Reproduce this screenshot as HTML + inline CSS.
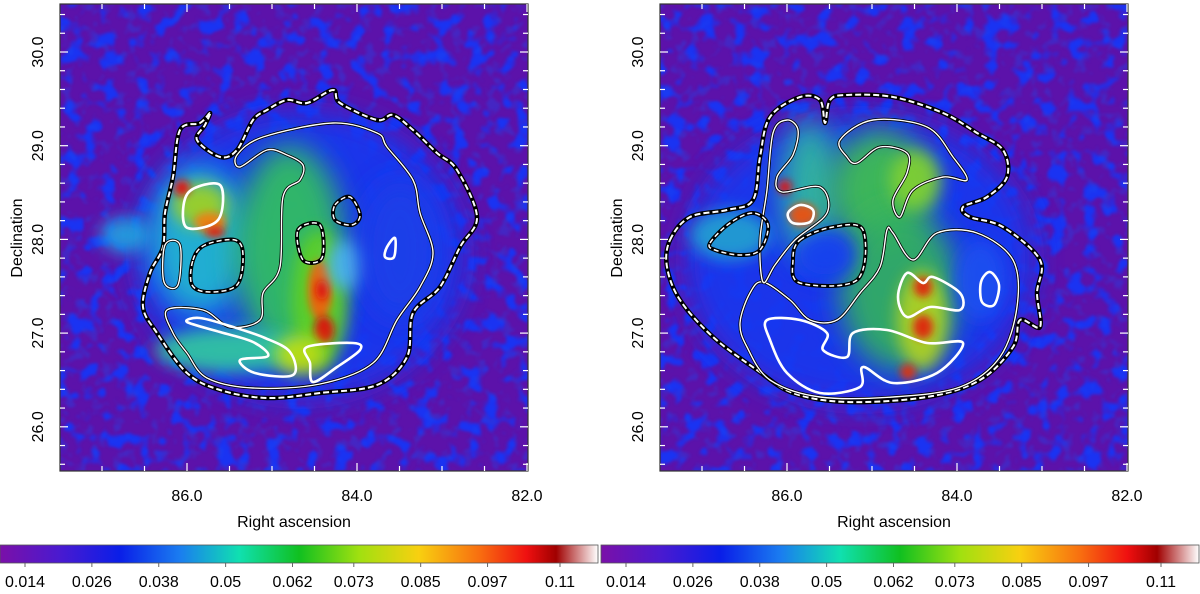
<!DOCTYPE html>
<html><head><meta charset="utf-8">
<style>
html,body{margin:0;padding:0;background:#fff;}
body{width:1200px;height:589px;overflow:hidden;font-family:"Liberation Sans",sans-serif;}
svg text{font-family:"Liberation Sans",sans-serif;fill:#000;}
</style></head>
<body>
<svg id="fig" width="1200" height="589" viewBox="0 0 1200 589" xmlns="http://www.w3.org/2000/svg">
<defs>
  <clipPath id="clipL"><rect x="60" y="4" width="468" height="467"/></clipPath>
  <clipPath id="clipR"><rect x="660" y="4" width="468" height="467"/></clipPath>
  <filter id="noise1" x="0" y="0" width="100%" height="100%" color-interpolation-filters="sRGB">
    <feTurbulence type="fractalNoise" baseFrequency="0.06" numOctaves="2" seed="3" result="t"/>
    <feColorMatrix in="t" type="matrix" values="0 0 0 0 0.1  0 0 0 0 0.2  0 0 0 0 0.95  6 0 0 0 -3.1" />
    <feGaussianBlur stdDeviation="1.2"/>
  </filter>
  <filter id="noise2" x="0" y="0" width="100%" height="100%" color-interpolation-filters="sRGB">
    <feTurbulence type="fractalNoise" baseFrequency="0.06" numOctaves="2" seed="11" result="t"/>
    <feColorMatrix in="t" type="matrix" values="0 0 0 0 0.1  0 0 0 0 0.2  0 0 0 0 0.95  6 0 0 0 -3.1" />
    <feGaussianBlur stdDeviation="1.2"/>
  </filter>
  <filter id="mottle" x="0" y="0" width="100%" height="100%" color-interpolation-filters="sRGB">
    <feTurbulence type="fractalNoise" baseFrequency="0.08" numOctaves="2" seed="7" result="t"/>
    <feColorMatrix in="t" type="matrix" values="0 0 0 0 0.1  0 0 0 0 0.3  0 0 0 0 0.95  5 0 0 0 -2.7" />
    <feGaussianBlur stdDeviation="1"/>
  </filter>
  <filter id="blurBig" x="-50%" y="-50%" width="200%" height="200%"><feGaussianBlur stdDeviation="14"/></filter>
  <filter id="blurMid" x="-50%" y="-50%" width="200%" height="200%"><feGaussianBlur stdDeviation="8"/></filter>
  <filter id="blurSm" x="-50%" y="-50%" width="200%" height="200%"><feGaussianBlur stdDeviation="4"/></filter>
  <linearGradient id="cmap" x1="0" x2="1" y1="0" y2="0">
    <stop offset="0" stop-color="#7a10a8"/>
    <stop offset="0.1" stop-color="#4a1ad0"/>
    <stop offset="0.2" stop-color="#0a1ee8"/>
    <stop offset="0.3" stop-color="#1a7cf0"/>
    <stop offset="0.4" stop-color="#10e0b0"/>
    <stop offset="0.5" stop-color="#10c020"/>
    <stop offset="0.6" stop-color="#a0e010"/>
    <stop offset="0.7" stop-color="#f8d010"/>
    <stop offset="0.8" stop-color="#f87010"/>
    <stop offset="0.88" stop-color="#f01010"/>
    <stop offset="0.93" stop-color="#a00000"/>
    <stop offset="1" stop-color="#ffffff"/>
  </linearGradient>
</defs>
<g id="panels"></g>
<g id="bars"></g>
</svg>
<script>
// ---- data ----
const cbTicks = [0.014,0.026,0.038,0.05,0.062,0.073,0.085,0.097,0.11];
const raTicks = [86.0,84.0,82.0];
const decTicks = [30.0,29.0,28.0,27.0,26.0];
const raMinorStep = 0.5;
const decMinorStep = 0.2;

const NS='http://www.w3.org/2000/svg';
function mk(tag, attrs, parent){const e=document.createElementNS(NS,tag);for(const k in attrs)e.setAttribute(k,attrs[k]);if(parent)parent.appendChild(e);return e;}
function smooth(p){
  let n=p.length,d='M'+p[0][0]+','+p[0][1];
  for(let i=0;i<n;i++){const p0=p[(i-1+n)%n],p1=p[i],p2=p[(i+1)%n],p3=p[(i+2)%n];
    d+=' C'+(p1[0]+(p2[0]-p0[0])/6).toFixed(1)+','+(p1[1]+(p2[1]-p0[1])/6).toFixed(1)+' '+(p2[0]-(p3[0]-p1[0])/6).toFixed(1)+','+(p2[1]-(p3[1]-p1[1])/6).toFixed(1)+' '+p2[0]+','+p2[1];}
  return d+' Z';}

const L = {
 blobs:[
  [300,255,165,145,'#1838f0','blurBig'],
  [125,235,25,18,'#20a0e0','blurMid'],
  [200,240,50,75,'#20b8d0','blurBig'],
  [290,250,55,105,'#30c060','blurBig'],
  [320,300,28,70,'#60d020','blurMid'],
  [230,350,75,22,'#30c8a0','blurMid'],
  [200,205,28,22,'#a0d020','blurMid'],
  [320,290,12,30,'#f06010','blurSm'],
  [324,330,10,14,'#e01010','blurSm'],
  [322,290,6,10,'#e01010','blurSm'],
  [182,188,8,8,'#e81010','blurSm'],
  [210,222,16,10,'#f08010','blurSm'],
  [215,232,10,6,'#e02010','blurSm'],
  [300,355,25,20,'#c0e010','blurMid'],
  [345,265,18,25,'#50b8f0','blurMid'],
  [400,250,40,70,'#1a40e8','blurBig']
 ],
 outer:[[210,113],[200,123],[180,130],[173,177],[165,213],[163,247],[150,273],[143,307],[157,333],[187,373],[220,390],[267,398],[320,393],[377,385],[407,357],[413,313],[440,287],[460,247],[477,217],[457,170],[437,153],[413,130],[393,115],[377,120],[340,103],[333,90],[307,103],[287,100],[267,110],[253,120],[237,150],[220,157],[197,140],[205,125]],
 inner:[[[263,137],[333,123],[377,133],[387,147],[413,180],[420,213],[433,253],[420,287],[397,320],[373,363],[320,384],[253,388],[207,378],[187,353],[173,333],[167,310],[203,310],[230,327],[260,320],[263,293],[280,267],[283,197],[300,180],[303,165],[287,155],[267,150],[240,167],[237,155]],
        [[165,245],[180,245],[178,285],[164,282]]],
 whiteThick:[
  [[187,322],[220,332],[253,342],[268,356],[240,360],[255,373],[293,375],[290,352],[265,338],[230,326],[200,318]],
  [[307,347],[353,343],[360,350],[337,367],[313,382],[310,363]],
  [[188,193],[220,185],[218,220],[186,227]],
  [[387,247],[395,238],[394,257],[385,257]]
 ],
 blackHoles:[
  [[193,260],[205,245],[235,240],[243,255],[237,285],[210,292],[192,285]],
  [[298,230],[320,225],[322,258],[303,260]],
  [[335,205],[350,197],[360,215],[352,225],[335,220]]
 ]
};
const R = {
 blobs:[
  [200,260,175,145,'#1838f0','blurBig'],
  [70,235,40,25,'#20a0d0','blurMid'],
  [150,190,30,70,'#30b8a0','blurBig'],
  [220,190,50,60,'#40c050','blurBig'],
  [240,290,60,80,'#30b060','blurBig'],
  [262,320,25,50,'#b0d020','blurMid'],
  [255,180,25,30,'#80d030','blurMid'],
  [125,187,7,7,'#e81010','blurSm'],
  [143,215,14,12,'#f05010','blurSm'],
  [263,287,9,10,'#e02010','blurSm'],
  [263,327,10,12,'#e02010','blurSm'],
  [248,372,8,8,'#e03010','blurSm'],
  [165,255,30,25,'#1840f0','blurMid'],
  [320,280,25,40,'#1a50f0','blurMid']
 ],
 outer:[[10,240],[30,217],[67,210],[93,200],[100,157],[110,117],[140,97],[160,100],[165,123],[170,100],[187,95],[233,97],[283,113],[317,133],[343,150],[347,177],[327,197],[303,207],[310,217],[343,227],[380,260],[377,293],[380,327],[360,320],[353,347],[320,380],[267,397],[187,402],[133,393],[97,370],[53,337],[20,300],[7,267]],
 inner:[
  [[103,282],[130,300],[150,320],[177,320],[200,293],[220,267],[227,230],[233,233],[253,260],[277,233],[317,233],[353,260],[357,307],[340,357],[300,387],[233,397],[160,397],[110,380],[87,347],[80,323],[90,293]],
  [[103,282],[100,240],[107,190],[113,133],[127,120],[138,130],[133,155],[117,177],[122,192],[160,187],[167,213],[135,240],[115,265]],
  [[180,140],[213,120],[267,127],[293,157],[307,180],[283,177],[253,190],[240,217],[233,200],[247,173],[247,153],[220,147],[197,163],[187,157]]
 ],
 whiteThick:[
  [[107,320],[140,320],[167,333],[163,350],[187,357],[193,333],[227,330],[267,343],[303,343],[277,373],[233,383],[203,367],[200,387],[160,393],[127,373],[110,340]],
  [[247,273],[263,283],[273,277],[300,293],[300,310],[270,307],[247,317],[238,297]],
  [[330,272],[339,285],[334,305],[322,302],[321,282]],
  [[140,205],[153,210],[150,222],[133,223],[128,213]]
 ],
 blackHoles:[
  [[50,243],[70,223],[93,213],[108,225],[100,250],[80,255],[55,250]],
  [[140,240],[173,227],[203,230],[197,280],[140,283],[133,260]]
 ]
};

function drawPanel(ox, tx, S, noiseId, clipId, pname){
  const g=mk('g',{'clip-path':'url(#'+clipId+')'},document.getElementById('panels'));
  
  
  mk('rect',{x:ox+60,y:4,width:468,height:467,fill:'#5c12aa'},g);
  mk('rect',{x:ox+60,y:4,width:468,height:467,fill:'#000',filter:'url(#'+noiseId+')'},g);
  const body=mk('g',{transform:'translate('+tx+',0)'},g);
  S.blobs.forEach(b=>{mk('ellipse',{cx:b[0],cy:b[1],rx:b[2],ry:b[3],fill:b[4],filter:'url(#'+b[5]+')',opacity:0.92},body);});
  const m=mk('rect',{x:ox+60,y:4,width:468,height:467,fill:'#000',filter:'url(#mottle)',opacity:0.35},g);
  const cg=mk('g',{fill:'none'},body);
  
  
  const od=smooth(S.outer);
  mk('path',{d:od,stroke:'#000',"stroke-width":4.5},cg);
  mk('path',{d:od,stroke:'#fff',"stroke-width":2,"stroke-dasharray":'6 3'},cg);
  S.inner.forEach(p=>{const d=smooth(p);mk('path',{d:d,stroke:'#000',"stroke-width":3},cg);mk('path',{d:d,stroke:'#fff',"stroke-width":1.4},cg);});
  S.whiteThick.forEach(p=>{mk('path',{d:smooth(p),stroke:'#fff',"stroke-width":2.6},cg);});
  S.blackHoles.forEach(p=>{const d=smooth(p);mk('path',{d:d,stroke:'#000',"stroke-width":4},cg);mk('path',{d:d,stroke:'#fff',"stroke-width":1.5,"stroke-dasharray":'5 3'},cg);});
  g.appendChild(cg.parentNode===body?body:cg);
  const ax=mk('g',{},document.getElementById('panels'));
  
  
  mk('rect',{x:ox+60,y:4,width:468,height:467,fill:'none',stroke:'#333',"stroke-width":1.2},ax);
  const X=ra=>ox+527-(ra-82)*85;
  const Y=dec=>52+(30-dec)*93.7;
  for(let ra=87.5;ra>=82;ra-=raMinorStep){const x=X(ra);if(x<ox+61||x>ox+527)continue;const major=Math.abs(ra-Math.round(ra))<1e-6&&Math.round(ra)%2===0;const L2=major?8:5;
    mk('line',{x1:x,x2:x,y1:471,y2:471-L2,stroke:'#fff',"stroke-width":1.2},ax);mk('line',{x1:x,x2:x,y1:4,y2:4+L2,stroke:'#fff',"stroke-width":1.2},ax);}
  for(let d=30.4;d>=25.6;d-=decMinorStep){const y=Y(d);if(y<5||y>470)continue;const major=Math.abs(d-Math.round(d))<1e-6;const L2=major?8:5;
    mk('line',{x1:ox+60,x2:ox+60+L2,y1:y,y2:y,stroke:'#fff',"stroke-width":1.2},ax);mk('line',{x1:ox+528,x2:ox+528-L2,y1:y,y2:y,stroke:'#fff',"stroke-width":1.2},ax);}
  raTicks.forEach(ra=>{const t=mk('text',{x:X(ra),y:501,"font-size":16,"text-anchor":'middle'},ax);t.textContent=ra.toFixed(1);
    
    });
  decTicks.forEach(d=>{const y=Y(d);const t=mk('text',{x:0,y:0,"font-size":16,"text-anchor":'middle',transform:'translate('+(ox+43)+','+y+') rotate(-90)'},ax);t.textContent=d.toFixed(1);
    
    });
  const xt=mk('text',{x:ox+294,y:527,"font-size":16,"text-anchor":'middle'},ax);xt.textContent='Right ascension';
  
  
  const yt=mk('text',{x:0,y:0,"font-size":16,"text-anchor":'middle',transform:'translate('+(ox+22)+',238) rotate(-90)'},ax);yt.textContent='Declination';
  
  
}
drawPanel(0,0,L,'noise1','clipL','left-panel');
drawPanel(600,660,R,'noise2','clipR','right-panel');

function drawBar(x0,w,name){
  const g=mk('g',{},document.getElementById('bars'));
  
  
  mk('rect',{x:x0,y:545,width:w,height:18,fill:'url(#cmap)',stroke:'#555',"stroke-width":0.8},g);
  const C=v=>x0+25+(v-0.014)/(0.11-0.014)*(560-25);
  cbTicks.forEach(v=>{const x=C(v);mk('line',{x1:x,x2:x,y1:563,y2:567,stroke:'#666'},g);
    const t=mk('text',{x:x,y:587,"font-size":16,"text-anchor":'middle'},g);t.textContent=String(v);
    
    });
}
drawBar(0,598,'colorbar-left');
drawBar(601,598,'colorbar-right');
</script>
</body></html>
